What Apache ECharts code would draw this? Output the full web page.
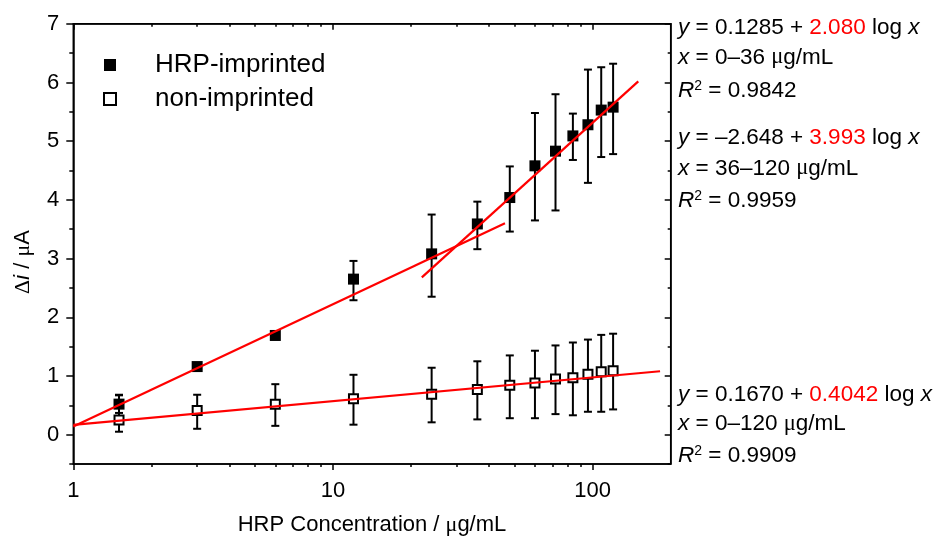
<!DOCTYPE html>
<html><head><meta charset="utf-8">
<script src="https://cdn.jsdelivr.net/npm/echarts@6/dist/echarts.min.js"></script>
<style>html,body{margin:0;padding:0;background:#fff}#c{width:951px;height:543px}</style>
</head><body><div id="c"></div>
<script>
const concentrations = [1.5, 3, 6, 12, 24, 36, 48, 60, 72, 84, 96, 108, 120];
const imprintedMean = [0.52, 1.16, 1.69, 2.65, 3.08, 3.59, 4.04, 4.58, 4.83, 5.09, 5.28, 5.53, 5.58];
const imprintedLow  = [0.37, 1.11, 1.64, 2.29, 2.35, 3.16, 3.46, 3.65, 3.82, 4.68, 4.29, 4.73, 4.78];
const imprintedHigh = [0.67, 1.21, 1.74, 2.96, 3.75, 3.97, 4.57, 5.48, 5.80, 5.47, 6.22, 6.26, 6.32];
const nonImprintedMean = [0.25, 0.41, 0.52, 0.61, 0.69, 0.77, 0.84, 0.88, 0.95, 0.97, 1.03, 1.07, 1.09];
const nonImprintedLow  = [0.05, 0.10, 0.15, 0.17, 0.21, 0.26, 0.28, 0.28, 0.35, 0.33, 0.39, 0.39, 0.43];
const nonImprintedHigh = [0.68, 0.68, 0.86, 1.02, 1.14, 1.25, 1.35, 1.43, 1.52, 1.57, 1.62, 1.70, 1.72];

const fitLowX = [1, 46],   fitLowY = [0.14, 3.60];
const fitHighX = [22, 150], fitHighY = [2.68, 6.02];
const fitNonX = [1, 182],  fitNonY = [0.167, 1.08];

const xMajorTicks = [1, 10, 100];
const xMinorTicks = [2, 3, 4, 5, 6, 7, 8, 9, 20, 30, 40, 50, 60, 70, 80, 90];
const yMajorTicks = [0, 1, 2, 3, 4, 5, 6, 7];
const yMinorTicks = [-0.5, 0.5, 1.5, 2.5, 3.5, 4.5, 5.5, 6.5];

const seriesNames = ['HRP-imprinted', 'non-imprinted'];
const annotations = [
  ['{i|y} = 0.1285 + {r|2.080} log {i|x}', 28],
  ['{i|x} = 0–36 {m|μ}g/mL', 57.5],
  ['{i|R}{s|2} = 0.9842', 91],
  ['{i|y} = –2.648 + {r|3.993} log {i|x}', 138],
  ['{i|x} = 36–120 {m|μ}g/mL', 168.5],
  ['{i|R}{s|2} = 0.9959', 200.5],
  ['{i|y} = 0.1670 + {r|0.4042} log {i|x}', 394.5],
  ['{i|x} = 0–120 {m|μ}g/mL', 424],
  ['{i|R}{s|2} = 0.9909', 456]
];

const FF = '"Liberation Sans", Arial, sans-serif';
const FS = 22;
const FA = 22.5;
const richG = {
  n: {fontSize: FA, fontFamily: FF, fill: '#000'},
  i: {fontSize: FA, fontFamily: FF, fontStyle: 'italic', fill: '#000'},
  r: {fontSize: FA, fontFamily: FF, fill: '#ff0000'},
  m: {fontSize: FA, fontFamily: '"Liberation Serif", serif', fill: '#000'},
  s: {fontSize: 14, fontFamily: FF, fill: '#000', verticalAlign: 'top'}
};
const richY = {
  n: {fontSize: FS, fontFamily: FF, fill: '#000'},
  i: {fontSize: FS, fontFamily: FF, fontStyle: 'italic', fill: '#000'},
  m: {fontSize: FS, fontFamily: '"Liberation Serif", serif', fill: '#000'}
};

function errData(mean, lo, hi) { return concentrations.map((c, k) => [c, lo[k], hi[k]]); }
function errRender(params, api) {
  const x = api.value(0);
  const a = api.coord([x, api.value(1)]);
  const b = api.coord([x, api.value(2)]);
  const w = 4;
  const st = {stroke: '#000', lineWidth: 2};
  return {type: 'group', children: [
    {type: 'line', shape: {x1: a[0], y1: a[1], x2: b[0], y2: b[1]}, style: st},
    {type: 'line', shape: {x1: a[0] - w, y1: a[1], x2: a[0] + w, y2: a[1]}, style: st},
    {type: 'line', shape: {x1: b[0] - w, y1: b[1], x2: b[0] + w, y2: b[1]}, style: st}
  ]};
}

function axLine() { return {show: true, onZero: false, lineStyle: {color: '#000', width: 1.5}}; }
const logBase = {type: 'log', logBase: 10, min: 1, max: 200, splitLine: {show: false}};
const valBase = {type: 'value', min: -0.5, max: 7, splitLine: {show: false}};

const option = {
  animation: false,
  backgroundColor: '#fff',
  grid: {left: 73.3, right: 280.3, top: 23.8, bottom: 79, containLabel: false,
         show: true, borderColor: '#000', borderWidth: 1.5, backgroundColor: 'transparent'},
  legend: {
    data: seriesNames, orient: 'vertical', left: 98, top: 45,
    itemWidth: 12, itemHeight: 12, itemGap: 4,
    textStyle: {fontSize: 26, fontFamily: FF, color: '#000', lineHeight: 30, padding: [0, 0, 0, 34]}
  },
  xAxis: [
    Object.assign({}, logBase, {position: 'bottom', axisLine: axLine(),
      axisTick: {show: true, inside: false, length: 6, lineStyle: {color: '#000', width: 1.5}, customValues: xMajorTicks},
      axisLabel: {show: true, margin: 16, fontSize: FS, fontFamily: FF, color: '#000', customValues: xMajorTicks},
      name: 'HRP Concentration / {m|μ}g/mL', nameLocation: 'middle', nameGap: 50,
      nameTextStyle: {fontSize: FS, fontFamily: FF, color: '#000', rich: {m: {fontSize: FS, fontFamily: '"Liberation Serif", serif', color: '#000'}}}
    }),
    Object.assign({}, logBase, {position: 'bottom', axisLine: {show: false, onZero: false},
      axisTick: {show: true, inside: false, length: 3, lineStyle: {color: '#000', width: 1.5}, customValues: xMinorTicks},
      axisLabel: {show: false}}),
    Object.assign({}, logBase, {position: 'top', axisLine: axLine(),
      axisTick: {show: true, inside: true, length: 6, lineStyle: {color: '#000', width: 1.5}, customValues: xMajorTicks},
      axisLabel: {show: false}}),
    Object.assign({}, logBase, {position: 'top', axisLine: {show: false, onZero: false},
      axisTick: {show: true, inside: true, length: 3, lineStyle: {color: '#000', width: 1.5}, customValues: xMinorTicks},
      axisLabel: {show: false}})
  ],
  yAxis: [
    Object.assign({}, valBase, {position: 'left', axisLine: axLine(),
      axisTick: {show: true, inside: false, length: 7, lineStyle: {color: '#000', width: 1.5}, customValues: yMajorTicks},
      axisLabel: {show: true, margin: 14, fontSize: FS, fontFamily: FF, color: '#000', customValues: yMajorTicks}}),
    Object.assign({}, valBase, {position: 'left', axisLine: {show: false, onZero: false},
      axisTick: {show: true, inside: false, length: 4, lineStyle: {color: '#000', width: 1.5}, customValues: yMinorTicks},
      axisLabel: {show: false}}),
    Object.assign({}, valBase, {position: 'right', axisLine: axLine(),
      axisTick: {show: true, inside: true, length: 6, lineStyle: {color: '#000', width: 1.5}, customValues: yMajorTicks},
      axisLabel: {show: false}}),
    Object.assign({}, valBase, {position: 'right', axisLine: {show: false, onZero: false},
      axisTick: {show: true, inside: true, length: 3, lineStyle: {color: '#000', width: 1.5}, customValues: yMinorTicks},
      axisLabel: {show: false}})
  ],
  series: [
    {type: 'custom', name: 'errA', xAxisIndex: 0, yAxisIndex: 0, z: 2, silent: true,
     data: errData(imprintedMean, imprintedLow, imprintedHigh), encode: {x: 0, y: [1, 2]}, renderItem: errRender},
    {type: 'custom', name: 'errB', xAxisIndex: 0, yAxisIndex: 0, z: 2, silent: true,
     data: errData(nonImprintedMean, nonImprintedLow, nonImprintedHigh), encode: {x: 0, y: [1, 2]}, renderItem: errRender},
    {type: 'scatter', name: seriesNames[0], z: 3, symbol: 'rect', symbolSize: 11,
     itemStyle: {color: '#000', opacity: 1},
     data: concentrations.map((c, k) => [c, imprintedMean[k]])},
    {type: 'scatter', name: seriesNames[1], z: 4, symbol: 'rect', symbolSize: 9,
     itemStyle: {color: '#fff', borderColor: '#000', borderWidth: 2, opacity: 1},
     data: concentrations.map((c, k) => [c, nonImprintedMean[k]])},
    {type: 'line', name: 'fit1', z: 5, showSymbol: false, symbol: 'none', lineStyle: {color: '#ff0000', width: 2.2},
     data: fitLowX.map((x, k) => [x, fitLowY[k]])},
    {type: 'line', name: 'fit2', z: 5, showSymbol: false, symbol: 'none', lineStyle: {color: '#ff0000', width: 2.2},
     data: fitHighX.map((x, k) => [x, fitHighY[k]])},
    {type: 'line', name: 'fit3', z: 5, showSymbol: false, symbol: 'none', lineStyle: {color: '#ff0000', width: 2.2},
     data: fitNonX.map((x, k) => [x, fitNonY[k]])}
  ],
  graphic: [
    {type: 'text', x: 23, y: 262, rotation: Math.PI / 2,
     style: {text: '{m|Δ}{i|i}{n| / }{m|μ}{n|A}', rich: richY, align: 'center', verticalAlign: 'middle', fontSize: FS, fontFamily: FF}}
  ].concat(annotations.map(a => ({
    type: 'text', x: 678, y: a[1],
    style: {text: a[0], rich: richG, fontSize: FA, fontFamily: FF, fill: '#000', align: 'left', verticalAlign: 'middle'}
  })))
};

const chart = echarts.init(document.getElementById('c'), null, {renderer: 'canvas'});
chart.setOption(option);
</script>
</body></html>
